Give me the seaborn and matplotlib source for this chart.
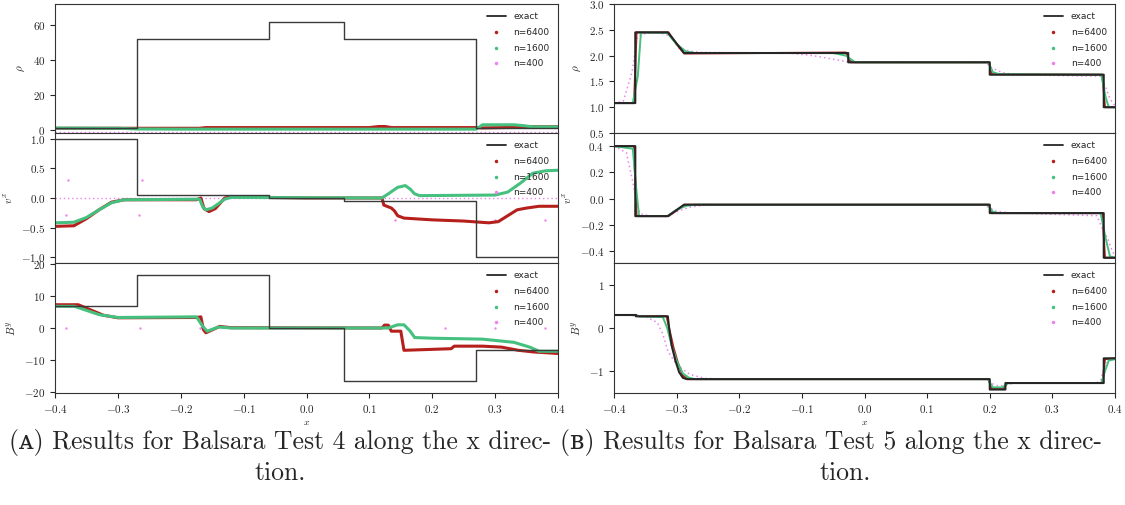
import matplotlib
matplotlib.use("Agg")
import matplotlib.pyplot as plt
import seaborn as sns
import pandas as pd
from matplotlib.lines import Line2D
from matplotlib.ticker import FormatStrFormatter, MultipleLocator

# ---------------- data: Balsara Test 4 (left) ----------------
L_EX_X = [-0.4, -0.27, -0.27, -0.06, -0.06, 0.06, 0.06, 0.27, 0.27, 0.4]
L_RHO_EX_Y = [1, 1, 52, 52, 61.5, 61.5, 52, 52, 1, 1]
L_VX_EX_Y = [1, 1, 0.05, 0.05, 0, 0, -0.05, -0.05, -1, -1]
L_BY_EX_Y = [7, 7, 16.5, 16.5, 0, 0, -16.6, -16.6, -7, -7]

L_RHO_6400_X = [-0.4, -0.3, -0.17, -0.16, 0.10, 0.115, 0.125, 0.135, 0.27, 0.28, 0.33, 0.36, 0.4]
L_RHO_6400_Y = [1.0, 1.0, 1.0, 1.4, 1.4, 2.0, 2.0, 1.4, 1.4, 1.2, 1.5, 1.9, 1.9]
L_RHO_1600_X = [-0.4, -0.3, -0.27, -0.2, 0.27, 0.28, 0.33, 0.345, 0.36, 0.4]
L_RHO_1600_Y = [1.1, 1.0, 0.6, 0.5, 0.5, 3.0, 3.0, 2.5, 1.8, 1.8]
L_RHO_400_X = [-0.4, 0.4]
L_RHO_400_Y = [-1.0, -1.0]

L_VX_6400_X = [-0.4, -0.37, -0.35, -0.33, -0.31, -0.29, -0.175, -0.168, -0.163, -0.155, -0.145,
               -0.13, -0.12, 0.0, 0.12, 0.123, 0.135, 0.14, 0.145, 0.155, 0.17, 0.2, 0.25,
               0.29, 0.305, 0.32, 0.335, 0.35, 0.37, 0.4]
L_VX_6400_Y = [-0.48, -0.47, -0.35, -0.2, -0.07, -0.03, -0.03, 0.0, -0.18, -0.23, -0.18,
               0.0, 0.02, 0.0, 0.0, -0.12, -0.17, -0.22, -0.3, -0.34, -0.35, -0.37, -0.39,
               -0.42, -0.4, -0.3, -0.2, -0.17, -0.14, -0.14]
L_VX_1600_X = [-0.4, -0.37, -0.35, -0.33, -0.31, -0.29, -0.17, -0.165, -0.16, -0.15, -0.13,
               -0.12, 0.12, 0.13, 0.145, 0.157, 0.165, 0.172, 0.18, 0.3, 0.32, 0.34, 0.36, 0.38, 0.4]
L_VX_1600_Y = [-0.42, -0.41, -0.33, -0.2, -0.08, -0.03, -0.02, -0.15, -0.2, -0.17, -0.02,
               0.01, 0.0, 0.07, 0.18, 0.21, 0.15, 0.07, 0.04, 0.05, 0.1, 0.25, 0.42, 0.46, 0.47]
L_VX_400_X = [-0.4, 0.4]
L_VX_400_Y = [0.0, 0.0]
L_VX_400_OUT_X = [-0.38, -0.262, -0.383, -0.266, 0.141, 0.30, 0.38]
L_VX_400_OUT_Y = [0.30, 0.30, -0.29, -0.29, -0.37, -0.37, -0.37]

L_BY_6400_X = [-0.4, -0.363, -0.323, -0.3, -0.175, -0.168, -0.164, -0.16, -0.138, -0.12, 0.12,
               0.124, 0.13, 0.135, 0.15, 0.155, 0.23, 0.235, 0.28, 0.31, 0.337, 0.36, 0.4]
L_BY_6400_Y = [7.3, 7.3, 4.0, 3.2, 3.3, 3.5, -0.5, -1.5, 0.5, 0.1, 0.0,
               0.9, 0.9, -1.0, -1.0, -7.0, -6.5, -5.7, -5.7, -6.0, -7.0, -7.5, -8.0]
L_BY_1600_X = [-0.4, -0.369, -0.33, -0.3, -0.175, -0.165, -0.158, -0.14, -0.12, 0.13, 0.145,
               0.155, 0.165, 0.172, 0.2, 0.28, 0.33, 0.355, 0.37, 0.4]
L_BY_1600_Y = [6.8, 6.8, 4.2, 3.3, 3.5, 0.5, -1.0, 0.3, 0.0, 0.0, 1.0,
               1.0, -1.0, -3.0, -3.2, -3.5, -4.5, -6.0, -7.3, -7.3]
L_BY_400_X = [-0.383, -0.265, -0.17, 0.22, 0.30, 0.38]
L_BY_400_Y = [0.0, 0.0, 0.0, 0.0, 0.0, 0.0]

# ---------------- data: Balsara Test 5 (right) ----------------
R_RHO_EX_X = [-0.4, -0.366, -0.366, -0.314, -0.288, -0.026, -0.026, 0.2, 0.2, 0.382, 0.382, 0.4]
R_RHO_EX_Y = [1.08, 1.08, 2.45, 2.45, 2.05, 2.05, 1.87, 1.87, 1.63, 1.63, 1.0, 1.0]
R_RHO_6400_X = [-0.4, -0.368, -0.364, -0.313, -0.3, -0.288, -0.03, -0.022, 0.199, 0.203, 0.38, 0.384, 0.4]
R_RHO_6400_Y = [1.08, 1.08, 2.45, 2.45, 2.22, 2.04, 2.06, 1.87, 1.87, 1.64, 1.63, 1.0, 1.0]
R_RHO_1600_X = [-0.4, -0.37, -0.362, -0.357, -0.315, -0.3, -0.285, -0.27, -0.05, -0.03, -0.015,
                0.198, 0.205, 0.215, 0.378, 0.385, 0.39, 0.4]
R_RHO_1600_Y = [1.08, 1.08, 1.6, 2.45, 2.44, 2.22, 2.08, 2.05, 2.05, 2.0, 1.87,
                1.87, 1.68, 1.64, 1.63, 1.2, 1.0, 1.0]
R_RHO_400_X = [-0.4, -0.385, -0.38, -0.371, -0.363, -0.355, -0.33, -0.31, -0.296, -0.28, -0.262,
               -0.12, -0.083, -0.05, -0.026, 0.195, 0.2, 0.22, 0.24, 0.377, 0.386, 0.392, 0.4]
R_RHO_400_Y = [1.08, 1.12, 1.32, 1.69, 2.35, 2.42, 2.45, 2.38, 2.14, 2.09, 2.06,
               2.05, 2.0, 1.93, 1.88, 1.87, 1.78, 1.67, 1.63, 1.6, 1.36, 1.16, 1.03]

R_VX_EX_X = [-0.4, -0.366, -0.366, -0.314, -0.288, 0.2, 0.2, 0.382, 0.382, 0.4]
R_VX_EX_Y = [0.4, 0.4, -0.133, -0.133, -0.046, -0.046, -0.11, -0.11, -0.45, -0.45]
R_VX_6400_X = [-0.4, -0.368, -0.364, -0.313, -0.3, -0.288, 0.199, 0.203, 0.38, 0.384, 0.4]
R_VX_6400_Y = [0.4, 0.4, -0.133, -0.133, -0.09, -0.046, -0.046, -0.11, -0.11, -0.45, -0.45]
R_VX_1600_X = [-0.4, -0.37, -0.365, -0.36, -0.315, -0.3, -0.285, -0.27, 0.197, 0.205, 0.215,
               0.377, 0.385, 0.392, 0.4]
R_VX_1600_Y = [0.4, 0.38, 0.1, -0.133, -0.133, -0.085, -0.055, -0.046, -0.046, -0.1, -0.11,
               -0.11, -0.3, -0.44, -0.45]
R_VX_400_X = [-0.4, -0.38, -0.377, -0.37, -0.363, -0.358, -0.34, -0.315, -0.3, -0.28, -0.26,
              -0.23, 0.19, 0.2, 0.21, 0.23, 0.371, 0.38, 0.389, 0.394, 0.4]
R_VX_400_Y = [0.4, 0.35, 0.28, 0.13, -0.06, -0.115, -0.135, -0.135, -0.1, -0.065, -0.052,
              -0.047, -0.046, -0.07, -0.095, -0.108, -0.13, -0.23, -0.31, -0.38, -0.44]

R_BY_EX_X = [-0.4, -0.365, -0.365, -0.314, -0.312, -0.308, -0.302, -0.296, -0.29, -0.284,
             0.2, 0.2, 0.225, 0.225, 0.382, 0.382, 0.4]
R_BY_EX_Y = [0.3, 0.3, 0.27, 0.27, 0.0, -0.4, -0.75, -1.02, -1.15, -1.18,
             -1.18, -1.42, -1.42, -1.27, -1.27, -0.7, -0.7]
R_BY_6400_X = [-0.4, -0.365, -0.36, -0.316, -0.312, -0.305, -0.298, -0.29, -0.282, 0.198,
               0.203, 0.222, 0.228, 0.38, 0.384, 0.4]
R_BY_6400_Y = [0.3, 0.3, 0.27, 0.27, 0.0, -0.45, -0.8, -1.1, -1.18, -1.18,
               -1.4, -1.4, -1.27, -1.27, -0.72, -0.7]
R_BY_1600_X = [-0.4, -0.37, -0.36, -0.322, -0.315, -0.308, -0.3, -0.29, -0.28, -0.27, 0.197,
               0.205, 0.22, 0.23, 0.378, 0.384, 0.39, 0.4]
R_BY_1600_Y = [0.3, 0.3, 0.27, 0.25, 0.0, -0.4, -0.75, -1.05, -1.15, -1.18, -1.18,
               -1.37, -1.37, -1.27, -1.27, -1.0, -0.75, -0.72]
R_BY_400_X = [-0.4, -0.37, -0.348, -0.331, -0.322, -0.314, -0.3, -0.279, -0.256, -0.22, 0.195,
              0.2, 0.21, 0.22, 0.23, 0.24, 0.37, 0.377, 0.383, 0.389, 0.4]
R_BY_400_Y = [0.3, 0.29, 0.25, 0.13, -0.14, -0.53, -0.85, -1.07, -1.16, -1.18, -1.18,
              -1.25, -1.33, -1.33, -1.3, -1.27, -1.27, -1.22, -0.91, -0.76, -0.72]

X_TICKS = [-0.4, -0.3, -0.2, -0.1, 0.0, 0.1, 0.2, 0.3, 0.4]
LEGEND_LABELS = ["exact", "n=6400", "n=1600", "n=400"]
CAPTION_A = ["(ᴀ) Results for Balsara Test 4 along the x direc-", "tion."]
CAPTION_B = ["(ʙ) Results for Balsara Test 5 along the x direc-", "tion."]

# ---------------- style ----------------
sns.set_style("ticks")
plt.rcParams.update({
    "mathtext.fontset": "cm",
    "axes.linewidth": 0.8,
    "axes.edgecolor": "#333333",
    "xtick.major.size": 3.5,
    "ytick.major.size": 3.5,
    "xtick.major.width": 0.8,
    "ytick.major.width": 0.8,
    "xtick.labelsize": 8,
    "ytick.labelsize": 8,
})
plt.rcParams["font.family"] = ["DejaVu Sans"]

RED = "#b5201c"
GREEN = "#45c07f"
VIOLET = "#ee82ee"

fig = plt.figure(figsize=(11.25, 5.05), dpi=100)

W, H = 1125.0, 505.0
rows = [(4, 133), (133, 263), (263, 393)]
cols = [(55, 558), (614, 1115)]


def make_ax(col, row):
    x0, x1 = cols[col]
    y0, y1 = rows[row]
    return fig.add_axes([x0 / W, 1 - y1 / H, (x1 - x0) / W, (y1 - y0) / H])


def line(ax, xs, ys, color, lw, ls="-", z=2, alpha=1.0):
    df = pd.DataFrame({"x": xs, "y": ys})
    sns.lineplot(data=df, x="x", y="y", ax=ax, estimator=None, sort=False,
                 color=color, lw=lw, ls=ls, zorder=z, alpha=alpha, legend=False)


panels = [
    (0, 0, L_EX_X, L_RHO_EX_Y, L_RHO_6400_X, L_RHO_6400_Y, L_RHO_1600_X, L_RHO_1600_Y,
     L_RHO_400_X, L_RHO_400_Y, (-1.7, 72), 20, "$%d$", r"$\rho$"),
    (0, 1, L_EX_X, L_VX_EX_Y, L_VX_6400_X, L_VX_6400_Y, L_VX_1600_X, L_VX_1600_Y,
     L_VX_400_X, L_VX_400_Y, (-1.1, 1.1), 0.5, "$%.1f$", r"$v^x$"),
    (0, 2, L_EX_X, L_BY_EX_Y, L_BY_6400_X, L_BY_6400_Y, L_BY_1600_X, L_BY_1600_Y,
     None, None, (-20.4, 20.4), 10, "$%d$", r"$B^y$"),
    (1, 0, R_RHO_EX_X, R_RHO_EX_Y, R_RHO_6400_X, R_RHO_6400_Y, R_RHO_1600_X, R_RHO_1600_Y,
     R_RHO_400_X, R_RHO_400_Y, (0.5, 3.0), 0.5, "$%.1f$", r"$\rho$"),
    (1, 1, R_VX_EX_X, R_VX_EX_Y, R_VX_6400_X, R_VX_6400_Y, R_VX_1600_X, R_VX_1600_Y,
     R_VX_400_X, R_VX_400_Y, (-0.49, 0.5), 0.2, "$%.1f$", r"$v^x$"),
    (1, 2, R_BY_EX_X, R_BY_EX_Y, R_BY_6400_X, R_BY_6400_Y, R_BY_1600_X, R_BY_1600_Y,
     R_BY_400_X, R_BY_400_Y, (-1.5, 1.5), 1, "$%d$", r"$B^y$"),
]

for (c, r, ex_x, ex_y, a_x, a_y, b_x, b_y, m_x, m_y, ylim, step, fmt, ylab) in panels:
    ax = make_ax(c, r)
    left = c == 0
    dense_lw = 2.2 if left else 1.4
    if m_x is not None:
        line(ax, m_x, m_y, VIOLET, 1.0 if left else 1.1, ls=(0, (1, 2)), z=1.5)
    line(ax, b_x, b_y, GREEN, dense_lw, z=2.2)
    line(ax, a_x, a_y, RED, dense_lw, z=2.1)
    line(ax, ex_x, ex_y, "#262626" if not left else "#3a3a3a", 1.5 if not left else 1.0, z=3)
    if left and r == 1:
        sns.scatterplot(x=L_VX_400_OUT_X, y=L_VX_400_OUT_Y, ax=ax, color=VIOLET, s=3,
                        linewidth=0, zorder=2, legend=False)
    if left and r == 2:
        sns.scatterplot(x=L_BY_400_X, y=L_BY_400_Y, ax=ax, color=VIOLET, s=3,
                        linewidth=0, zorder=2, legend=False)
    ax.set_xlim(-0.4, 0.4)
    ax.set_ylim(*ylim)
    ax.set_xticks(X_TICKS)
    ax.xaxis.set_major_formatter(FormatStrFormatter("$%.1f$"))
    ax.yaxis.set_major_locator(MultipleLocator(step))
    ax.yaxis.set_major_formatter(FormatStrFormatter(fmt))
    ax.set_ylabel(ylab, fontsize=8, labelpad=4)
    if r < 2:
        ax.tick_params(axis="x", bottom=False, labelbottom=False)
        ax.set_xlabel("")
    else:
        ax.set_xlabel("$x$", fontsize=7, labelpad=1.5)
    for s in ax.spines.values():
        s.set_visible(True)
    handles = [
        Line2D([], [], color="#262626", lw=1.3),
        Line2D([], [], ls="", marker=".", ms=3, color=RED),
        Line2D([], [], ls="", marker=".", ms=3, color=GREEN),
        Line2D([], [], ls="", marker=".", ms=3, color=VIOLET),
    ]
    ax.legend(handles, LEGEND_LABELS, loc="upper right", frameon=False, fontsize=6.5,
              handlelength=2.2, labelspacing=0.75, borderaxespad=0.5)

cap_font = ["cmr10", "DejaVu Serif"]
fig.text(280 / W, 1 - 443 / H, CAPTION_A[0], ha="center", va="center", fontsize=18.5, family=cap_font)
fig.text(280 / W, 1 - 473 / H, CAPTION_A[1], ha="center", va="center", fontsize=18.5, family=cap_font)
fig.text(831 / W, 1 - 443 / H, CAPTION_B[0], ha="center", va="center", fontsize=18.5, family=cap_font)
fig.text(845 / W, 1 - 473 / H, CAPTION_B[1], ha="center", va="center", fontsize=18.5, family=cap_font)

fig.savefig("out.png", dpi=100)
